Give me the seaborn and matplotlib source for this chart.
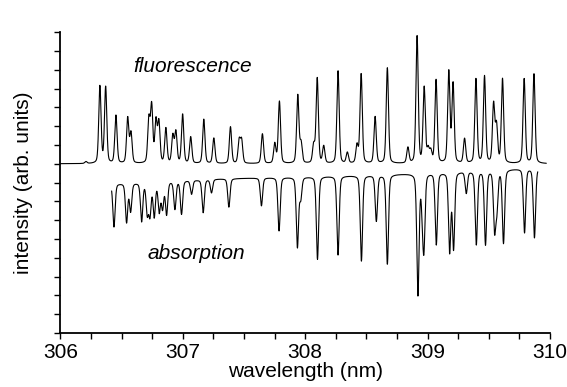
import numpy as np
import pandas as pd
import matplotlib
matplotlib.use("Agg")
import matplotlib.pyplot as plt
import seaborn as sns

# ---- data ----
# fluorescence lines: centre wavelength (nm) and peak height (arb. units)
fl_center = [306.208, 306.322, 306.369, 306.453, 306.549, 306.576, 306.722, 306.745,
             306.780, 306.804, 306.861, 306.918, 306.943, 306.998, 307.064, 307.171,
             307.253, 307.389, 307.460, 307.480, 307.650, 307.751, 307.789, 307.939,
             307.966, 308.069, 308.098, 308.151, 308.268, 308.344, 308.423, 308.457,
             308.571, 308.671, 308.839, 308.914, 308.972, 309.004, 309.026, 309.069,
             309.173, 309.208, 309.302, 309.395, 309.465, 309.539, 309.563, 309.612,
             309.789, 309.869]
fl_height = [0.10, 4.10, 4.05, 2.55, 2.40, 1.60, 2.30, 3.00,
             2.20, 2.15, 1.85, 1.45, 1.65, 2.60, 1.40, 2.35,
             1.35, 1.95, 1.20, 1.20, 1.58, 1.05, 3.30, 3.62,
             1.05, 0.95, 4.52, 0.90, 4.92, 0.57, 0.95, 4.75,
             2.48, 5.08, 0.83, 6.75, 4.00, 0.70, 0.60, 4.42,
             4.85, 4.20, 1.30, 4.48, 4.62, 3.10, 1.95, 4.48,
             4.50, 4.76]
fl_range = [306.0, 309.97]

# absorption lines: centre wavelength (nm) and value at the dip bottom
ab_center = [306.437, 306.540, 306.573, 306.663, 306.709, 306.731, 306.766, 306.807,
             306.834, 306.867, 306.935, 306.989, 307.071, 307.166, 307.234, 307.376,
             307.642, 307.786, 307.936, 307.963, 308.100, 308.268, 308.459, 308.581,
             308.671, 308.921, 308.957, 308.970, 309.071, 309.180, 309.212, 309.316,
             309.398, 309.473, 309.547, 309.566, 309.620, 309.792, 309.873]
ab_bottom = [-3.35, -3.09, -2.50, -3.03, -2.59, -2.66, -2.77, -2.50,
             -2.32, -2.66, -2.39, -2.66, -1.60, -2.59, -1.53, -2.30,
             -2.23, -3.56, -4.41, -1.79, -5.07, -4.84, -5.16, -3.03,
             -5.32, -6.93, -1.97, -4.10, -4.27, -4.63, -4.45, -1.53,
             -4.27, -4.27, -3.39, -2.23, -4.19, -3.65, -3.92]
ab_range = [306.418, 309.90]
# absorption baseline anchor points
ab_base_x = [306.41, 307.30, 308.61, 309.91]
ab_base_y = [-1.06, -0.80, -0.59, -0.21]

x_ticks = [306, 307, 308, 309, 310]
x_minor = [306.25, 306.5, 306.75, 307.25, 307.5, 307.75, 308.25, 308.5, 308.75,
           309.25, 309.5, 309.75]
y_ticks = list(range(-9, 8))


def profile(x, c, w=0.022, eta=0.3):
    g = np.exp(-4 * np.log(2) * ((x - c) / w) ** 2)
    l = 1.0 / (1.0 + 4 * ((x - c) / w) ** 2)
    return eta * l + (1 - eta) * g


xf = np.linspace(fl_range[0], fl_range[1], 6000)
yf = np.zeros_like(xf)
for c, h in zip(fl_center, fl_height):
    yf += h * profile(xf, c)

xa = np.linspace(ab_range[0], ab_range[1], 6000)
base = np.interp(xa, ab_base_x, ab_base_y)
ya = base.copy()
for c, b in zip(ab_center, ab_bottom):
    depth = b - np.interp(c, ab_base_x, ab_base_y)
    ya += depth * profile(xa, c)

df_f = pd.DataFrame({"wavelength": xf, "intensity": yf})
df_a = pd.DataFrame({"wavelength": xa, "intensity": ya})

sns.set_style("ticks")
plt.rcParams["font.family"] = ["Liberation Sans", "DejaVu Sans"]
plt.rcParams["text.color"] = "black"
plt.rcParams["axes.labelcolor"] = "black"
plt.rcParams["xtick.color"] = "black"
plt.rcParams["ytick.color"] = "black"

fig, ax = plt.subplots(figsize=(5.67, 3.87), dpi=100)
fig.subplots_adjust(left=0.1067, right=0.970, bottom=0.1395, top=0.917)

sns.lineplot(data=df_f, x="wavelength", y="intensity", ax=ax, color="black",
             linewidth=0.8, sort=False, estimator=None)
sns.lineplot(data=df_a, x="wavelength", y="intensity", ax=ax, color="black",
             linewidth=0.8, sort=False, estimator=None)

ax.set_xlim(306, 310)
ax.set_ylim(-9, 7)
ax.set_xticks(x_ticks)
ax.set_xticks(x_minor, minor=True)
ax.set_yticks(y_ticks)
ax.set_yticklabels([])
ax.tick_params(axis="both", which="both", direction="out", length=4.5, width=1.0,
               color="black")
ax.tick_params(axis="x", labelsize=15, pad=3, labelcolor="black")
for s in ["left", "bottom"]:
    ax.spines[s].set_linewidth(1.3)
    ax.spines[s].set_color("black")
sns.despine(ax=ax)

ax.set_xlabel("wavelength (nm)", fontsize=15, labelpad=0, color="black")
ax.set_ylabel("intensity (arb. units)", fontsize=15, labelpad=12, color="black")

ax.text(307.08, 4.89, "fluorescence", fontsize=15, style="italic",
        ha="center", va="baseline", color="black")
ax.text(307.11, -5.05, "absorption", fontsize=15, style="italic",
        ha="center", va="baseline", color="black")

fig.savefig("out.png", dpi=100)
